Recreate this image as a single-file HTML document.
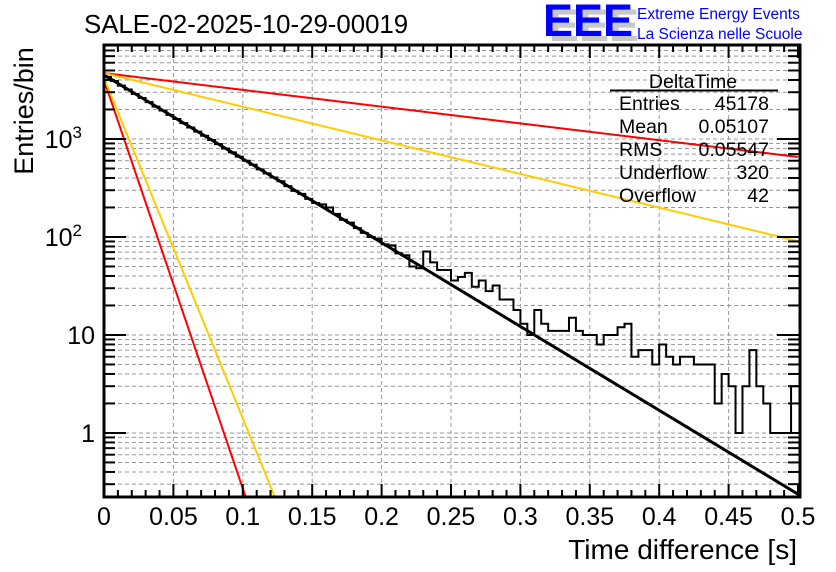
<!DOCTYPE html>
<html><head><meta charset="utf-8">
<style>
html,body{margin:0;padding:0;background:#fff;}
svg{display:block;font-family:"Liberation Sans",sans-serif;}
</style></head>
<body>
<svg id="chart" width="836" height="572" viewBox="0 0 836 572">
  <rect x="0" y="0" width="836" height="572" fill="#fff"/>
  <text x="84" y="33" font-size="25.8" fill="#000">SALE-02-2025-10-29-00019</text>
  <g>
    <text x="549" y="41" font-size="45" font-weight="bold" fill="#c8c8c8">EEE</text>
    <text x="543" y="36" font-size="45" font-weight="bold" fill="#0000ff">EEE</text>
    <text x="637" y="19" font-size="15.5" fill="#0000ff">Extreme Energy Events</text>
    <text x="637" y="39" font-size="15.5" fill="#0000ff">La Scienza nelle Scuole</text>
  </g>
  <g id="grid"></g>
  <g id="series"></g>
  <g id="axes"></g>
  <g font-size="19.5" fill="#000">
    <text x="693" y="88" text-anchor="middle">DeltaTime</text>
    <line x1="610" y1="90.5" x2="778" y2="90.5" stroke="#000" stroke-width="2"/>
    <text x="619" y="110">Entries</text>
    <text x="769" y="110" text-anchor="end">45178</text>
    <text x="619" y="133">Mean</text>
    <text x="769" y="133" text-anchor="end">0.05107</text>
    <text x="619" y="156">RMS</text>
    <text x="769" y="156" text-anchor="end">0.05547</text>
    <text x="619" y="179">Underflow</text>
    <text x="769" y="179" text-anchor="end">320</text>
    <text x="619" y="202">Overflow</text>
    <text x="769" y="202" text-anchor="end">42</text>
  </g>
  <text x="797" y="559" font-size="28" text-anchor="end">Time difference [s]</text>
  <text transform="translate(33,111) rotate(-90)" font-size="27" text-anchor="middle">Entries/bin</text>
</svg>
<script>
const binCounts = [4300,3900,3500,3200,2880,2620,2380,2140,1950,1760,1600,1450,1310,1190,1080,975,885,800,730,660,600,545,490,445,405,370,330,295,275,245,222,215,200,172,150,140,123,110,100,96,84,82,68,65,50,48,71,55,46,46,36,39,43,31,36,28,32,23,23,18,13,10,18,13,11,11,11,15,11,10,10,8,10,10,12,13,6,7,7,5,8,6,5,6,6,5,5,5,2,4,3,1,3,7,3,2,1,1,1,3];
const binWidth = 0.005;
const xTicks = [0,0.05,0.1,0.15,0.2,0.25,0.3,0.35,0.4,0.45,0.5];
const xTickLabels = ["0","0.05","0.1","0.15","0.2","0.25","0.3","0.35","0.4","0.45","0.5"];
const yDecades = [1,10,100,1000];
const yTickLabels = ["1","10","10^2","10^3"];
const fitAmplitudes = [4500,4700,4700,4000,4200];
const fitRates = [19.7,3.94,7.9,96,80];
const fitColors = ["#000000","#ff0000","#ffcc00","#ff0000","#ffcc00"];
const fitNames = ["fit-main","fit-upper-red","fit-upper-yellow","fit-steep-red","fit-steep-yellow"];

const X0=104,X1=798,Y0=45,Y1=497;
const xMin=0,xMax=0.5;
const logMin=Math.log10(0.222),logMax=Math.log10(9100);
const NS="http://www.w3.org/2000/svg";
function sx(v){return X0+(v-xMin)/(xMax-xMin)*(X1-X0);}
function sy(v){return Y1-(Math.log10(v)-logMin)/(logMax-logMin)*(Y1-Y0);}
function mk(tag,attrs,parent){const e=document.createElementNS(NS,tag);for(const k in attrs)e.setAttribute(k,attrs[k]);parent.appendChild(e);return e;}

const grid=document.getElementById('grid');
const series=document.getElementById('series');
const axes=document.getElementById('axes');

const defs=mk('defs',{},document.getElementById('chart'));
const cp=mk('clipPath',{id:'plotclip'},defs);
mk('rect',{x:X0,y:Y0,width:X1-X0+2,height:Y1-Y0},cp);
series.setAttribute('clip-path','url(#plotclip)');

xTicks.forEach((t)=>{
  if(t<=xMin||t>=xMax)return;
  const l=mk('line',{x1:sx(t),x2:sx(t),y1:Y0,y2:Y1,stroke:'#999','stroke-width':1,'stroke-dasharray':'4,3'},grid);
  
  
});
const minorVals=[];
for(let d=0.1;d<=1000;d*=10){for(let m=1;m<=9;m++){const v=d*m;if(v>0.222&&v<9100)minorVals.push(v);}}
minorVals.forEach(v=>{
  const l=mk('line',{x1:X0,x2:X1,y1:sy(v),y2:sy(v),stroke:'#999','stroke-width':1,'stroke-dasharray':'4,3'},grid);
  
  
});

fitAmplitudes.forEach((A,i)=>{
  let d='';
  for(let k=0;k<=400;k++){
    const x=xMin+(xMax-xMin)*k/400;
    let v=A*Math.exp(-fitRates[i]*x);
    if(v<0.2){v=0.2;}
    d+=(k?'L':'M')+sx(x).toFixed(2)+','+sy(v).toFixed(2);
    if(v<=0.2)break;
  }
  const p=mk('path',{d:d,fill:'none',stroke:fitColors[i],'stroke-width':i===0?3:2},series);
  
  
});

let hd='';
binCounts.forEach((c,i)=>{
  const xa=sx(i*binWidth),xb=sx((i+1)*binWidth),y=sy(Math.max(c,0.2));
  hd+=(i?'L':'M')+xa.toFixed(2)+','+y.toFixed(2)+'L'+xb.toFixed(2)+','+y.toFixed(2);
});
const hp=mk('path',{d:hd,fill:'none',stroke:'#000','stroke-width':2},series);



const fr=mk('rect',{x:X0,y:Y0,width:X1-X0+2,height:Y1-Y0,fill:'none',stroke:'#000','stroke-width':3},axes);



for(let k=0;k<=50;k++){
  const x=sx(k*0.01);
  const major=(k%5===0);
  const len=major?13:7;
  mk('line',{x1:x,x2:x,y1:Y1,y2:Y1-len,stroke:'#000','stroke-width':2},axes);
  mk('line',{x1:x,x2:x,y1:Y0,y2:Y0+len,stroke:'#000','stroke-width':2},axes);
}
xTicks.forEach((t,i)=>{
  const tx=mk('text',{x:sx(t),y:525,'font-size':25,'text-anchor':'middle'},axes);
  tx.textContent=xTickLabels[i];
  
  
});
minorVals.forEach(v=>{
  const major=yDecades.includes(Math.round(v*1000)/1000);
  const len=major?22:11;
  const y=sy(v);
  mk('line',{x1:X0,x2:X0+len,y1:y,y2:y,stroke:'#000','stroke-width':2},axes);
  mk('line',{x1:X1+1,x2:X1+1-len,y1:y,y2:y,stroke:'#000','stroke-width':2},axes);
});
yDecades.forEach((v,i)=>{
  const lab=yTickLabels[i];
  const t=mk('text',{x:95,y:sy(v)+9,'font-size':25,'text-anchor':'end'},axes);
  if(lab.indexOf('^')>=0){
    const [b,e]=lab.split('^');
    t.setAttribute('x',82);
    t.textContent=b;
    const s=mk('tspan',{dy:-10,'font-size':17},t);
    s.textContent=e;
  }else{t.textContent=lab;}
  
  
});
</script>
</body></html>
